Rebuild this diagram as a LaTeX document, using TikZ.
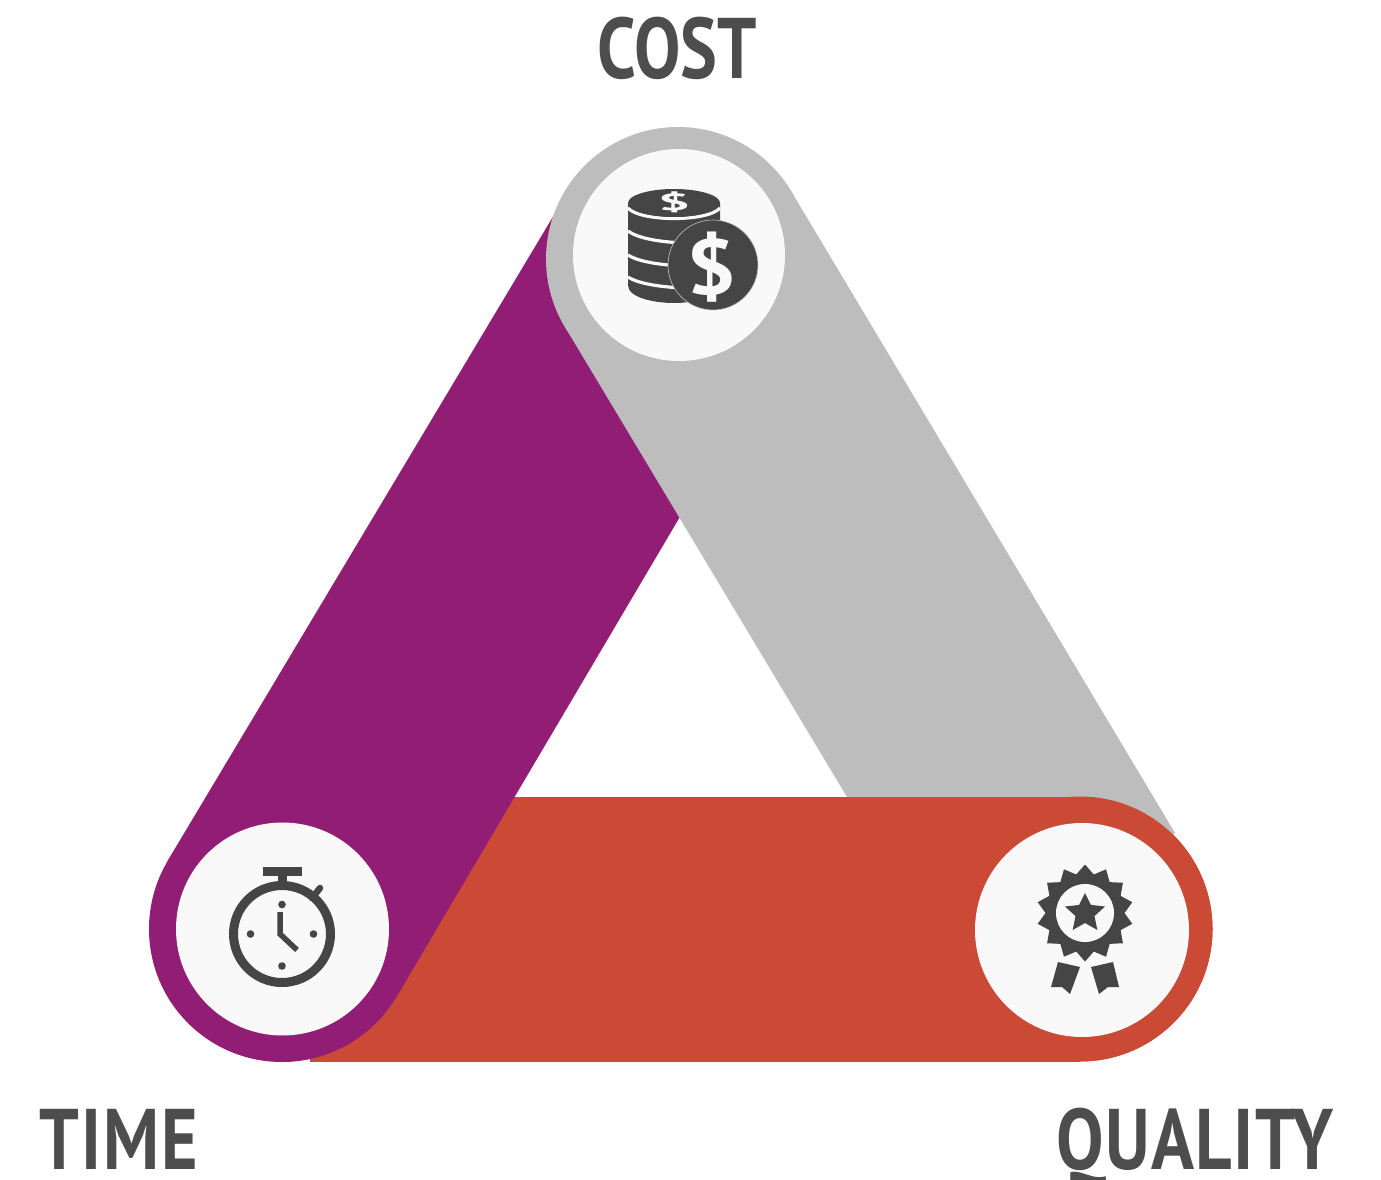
\documentclass[tikz,border=0pt]{standalone}
\usepackage{fontspec}
\usepackage{graphicx}
\setmainfont{PT Sans}
\definecolor{plum}{HTML}{921D74}
\definecolor{ash}{HTML}{BDBDBD}
\definecolor{brick}{HTML}{CB4A36}
\definecolor{disc}{HTML}{F8F9F8}
\definecolor{ink}{HTML}{454545}
\definecolor{labelink}{HTML}{4D4D4D}
\tikzset{
  hole/.style={fill=disc},
  label/.style={text=labelink,inner sep=0pt,anchor=base,font=\bfseries},
  iconline/.style={draw=ink,line width=9pt},
  handline/.style={draw=ink,line width=5.5pt,line cap=butt,line join=miter},
  seam/.style={draw=disc,line width=3.2pt},
}
\newcommand{\redband}{%
  \fill[brick] (310,796.5) rectangle (1080,1061.5);
  \fill[brick] (1080,929) circle[radius=132.5];
}
\begin{document}
\begin{tikzpicture}[x=1pt,y=-1pt]
\useasboundingbox (0,0) rectangle (1381,1180);
\fill[white] (0,0) rectangle (1381,1180);
% bands, cyclically overlapping
\redband
\fill[plum] (282,929) circle[radius=133];
\fill[plum] (167.5,861) -- (554,215) -- (575,180) -- (678,259) -- (792,327) -- (396.5,997) -- cycle;
\fill[ash] (678,259) circle[radius=132];
\fill[ash] (565,327) -- (791,191) -- (1175,833) -- (1173,835) -- (1080,929) -- (967,997) -- cycle;
\begin{scope}
  \clip (620,700) rectangle (1381,1180);
  \redband
\end{scope}
% discs
\fill[hole] (679,255) circle[radius=106];
\fill[hole] (282.5,929) circle[radius=106.5];
\fill[hole] (1082,930) circle[radius=107];
% coins icon
\fill[ink] (628,203) -- (628,285) .. controls (628,298) and (655,303) .. (674,303)
  .. controls (693,303) and (720,298) .. (720,285) -- (720,203) -- cycle;
\draw[seam] (628,208) .. controls (640,222) and (708,222) .. (720,208);
\draw[seam] (628,231) .. controls (640,240) and (670,243) .. (690,243);
\draw[seam] (628,255) .. controls (640,263) and (670,266) .. (690,266);
\draw[seam] (628,277) .. controls (640,285) and (670,288) .. (690,288);
\fill[ink] (674,203) ellipse[x radius=46,y radius=14];
\node[inner sep=0pt,text=disc,font=\bfseries] (smalldollar) at (674,202) {\scalebox{1.9}[0.78]{\fontsize{30}{30}\selectfont\$}};
\fill[ink,draw=disc!70!ink,line width=0.6pt] (713,265) circle[radius=45];
\node[inner sep=0pt,text=disc,font=\bfseries] (bigdollar) at (712,267) {\scalebox{1.3}[1.15]{\fontsize{68}{68}\selectfont\$}};
% stopwatch icon
\draw[iconline] (282,934) circle[radius=48.5];
\fill[ink] (262.7,867) rectangle (301.7,876);
\fill[ink] (278,875) rectangle (287,886);
\draw[ink,line width=6.5pt,line cap=round] (312,898) -- (320,888);
\foreach \p/\q in {282/904.5,282/966,250.5/934,313.5/934}{\fill[ink] (\p,\q) circle[radius=3.8];}
\draw[handline] (280,912) -- (280,934) -- (297,950);
% badge icon
\begin{scope}[shift={(1085,913)}]
  \fill[ink] (90:48.5) \foreach \i in {1,...,27}{ -- ({90+\i*12.857}:{44+4.5*cos(\i*180)}) } -- cycle;
  \fill[disc] (0,0) circle[radius=29];
  \fill[ink] (0,-20) \foreach \i in {1,...,9}{ -- ({-90+\i*36}:{15.5+5.5*cos(\i*180)}) } -- cycle;
\end{scope}
\fill[ink] (1058,962) -- (1080,967) -- (1070,994) -- (1062,987) -- (1051,987) -- cycle;
\fill[ink] (1091,967) -- (1113,962) -- (1119,987) -- (1108,987) -- (1099,994) -- cycle;
% labels
\node[label] (cost) at (677.5,79) {\scalebox{0.807}[1]{\fontsize{86}{86}\selectfont COST}};
\node[label] (time) at (119,1169) {\scalebox{0.815}[1]{\fontsize{86}{86}\selectfont\addfontfeature{LetterSpace=3}TIME}};
\node[label] (quality) at (1195,1169) {\scalebox{0.826}[1]{\fontsize{86}{86}\selectfont\addfontfeature{LetterSpace=2}QUALITY}};
\end{tikzpicture}
\end{document}
